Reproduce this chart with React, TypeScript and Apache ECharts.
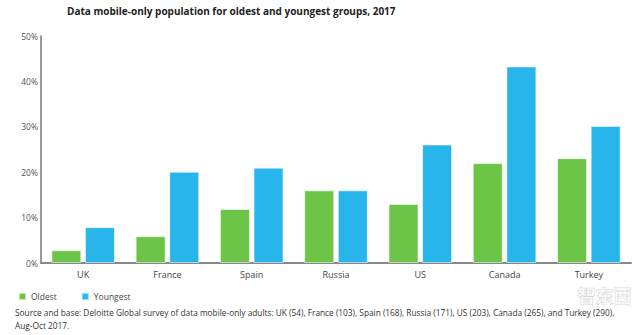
import React, { useEffect, useRef } from "react";
import * as echarts from "echarts";

const categories = ["UK", "France", "Spain", "Russia", "US", "Canada", "Turkey"];
const oldest = [2.8, 5.9, 11.9, 16.0, 13.0, 22.0, 23.1];
const youngest = [7.9, 20.1, 21.0, 16.0, 26.1, 43.3, 30.2];
const yTicks = { min: 0, max: 50, interval: 10 };
const titleText = "Data mobile-only population for oldest and youngest groups, 2017";
const sourceLine1 =
  "Source and base: Deloitte Global survey of data mobile-only adults: UK (54), France (103), Spain (168), Russia (171), US (203), Canada (265), and Turkey (290),";
const sourceLine2 = "Aug-Oct 2017.";

const FONT = "'Open Sans', sans-serif";
const GREEN = "#6cc547";
const BLUE = "#27b5ec";

export default function App() {
  const ref = useRef<HTMLDivElement>(null);
  useEffect(() => {
    if (!ref.current) return;
    const chart = echarts.init(ref.current, null, { renderer: "svg" });
    chart.setOption({
      animation: false,
      backgroundColor: "#ffffff",
      textStyle: { fontFamily: FONT },
      title: {
        text: titleText,
        left: 62,
        top: 1,
        textStyle: { fontFamily: FONT, fontSize: 10, fontWeight: "bold", color: "#222" },
      },
      legend: {
        left: 13,
        top: 287,
        itemWidth: 7,
        itemHeight: 7,
        itemGap: 24,
        icon: "rect",
        textStyle: { fontFamily: FONT, fontSize: 8.5, color: "#444" },
        data: ["Oldest", "Youngest"],
      },
      grid: { left: 41, right: 9, top: 36, bottom: 72, containLabel: false },
      xAxis: {
        type: "category",
        data: categories,
        axisLine: { lineStyle: { color: "#888", width: 2 } },
        axisTick: { show: false },
        axisLabel: { fontFamily: FONT, fontSize: 9, color: "#444", margin: 7 },
      },
      yAxis: {
        type: "value",
        min: yTicks.min,
        max: yTicks.max,
        interval: yTicks.interval,
        axisLine: { show: true, lineStyle: { color: "#777", width: 1.5 } },
        axisTick: { show: false },
        splitLine: { show: false },
        axisLabel: {
          fontFamily: FONT,
          fontSize: 8.5,
          color: "#555",
          margin: 3,
          formatter: "{value}%",
        },
      },
      series: [
        {
          name: "Oldest",
          type: "bar",
          data: oldest,
          barWidth: 30,
          barGap: "12%",
          itemStyle: { color: GREEN, borderColor: "rgba(255,255,255,0.55)", borderWidth: 1 },
        },
        {
          name: "Youngest",
          type: "bar",
          data: youngest,
          barWidth: 30,
          itemStyle: { color: BLUE, borderColor: "rgba(255,255,255,0.55)", borderWidth: 1 },
        },
      ],
      graphic: [
        {
          type: "text",
          left: 15,
          top: 308,
          style: { text: sourceLine1, font: `8.3px ${FONT}`, fill: "#333" },
        },
        {
          type: "text",
          left: 15,
          top: 321,
          style: { text: sourceLine2, font: `8.3px ${FONT}`, fill: "#333" },
        },
        {
          type: "text",
          left: 577,
          top: 285,
          style: {
            text: "智东西",
            font: "bold 18px 'Noto Sans CJK SC'",
            fill: "rgba(255,255,255,0.6)",
            stroke: "rgba(150,150,150,0.4)",
            lineWidth: 1,
          },
        },
      ],
    });
    return () => chart.dispose();
  }, []);
  return (
    <div
      ref={ref}
      style={{ position: "fixed", left: 0, top: 0, width: 640, height: 335 }}
    />
  );
}
